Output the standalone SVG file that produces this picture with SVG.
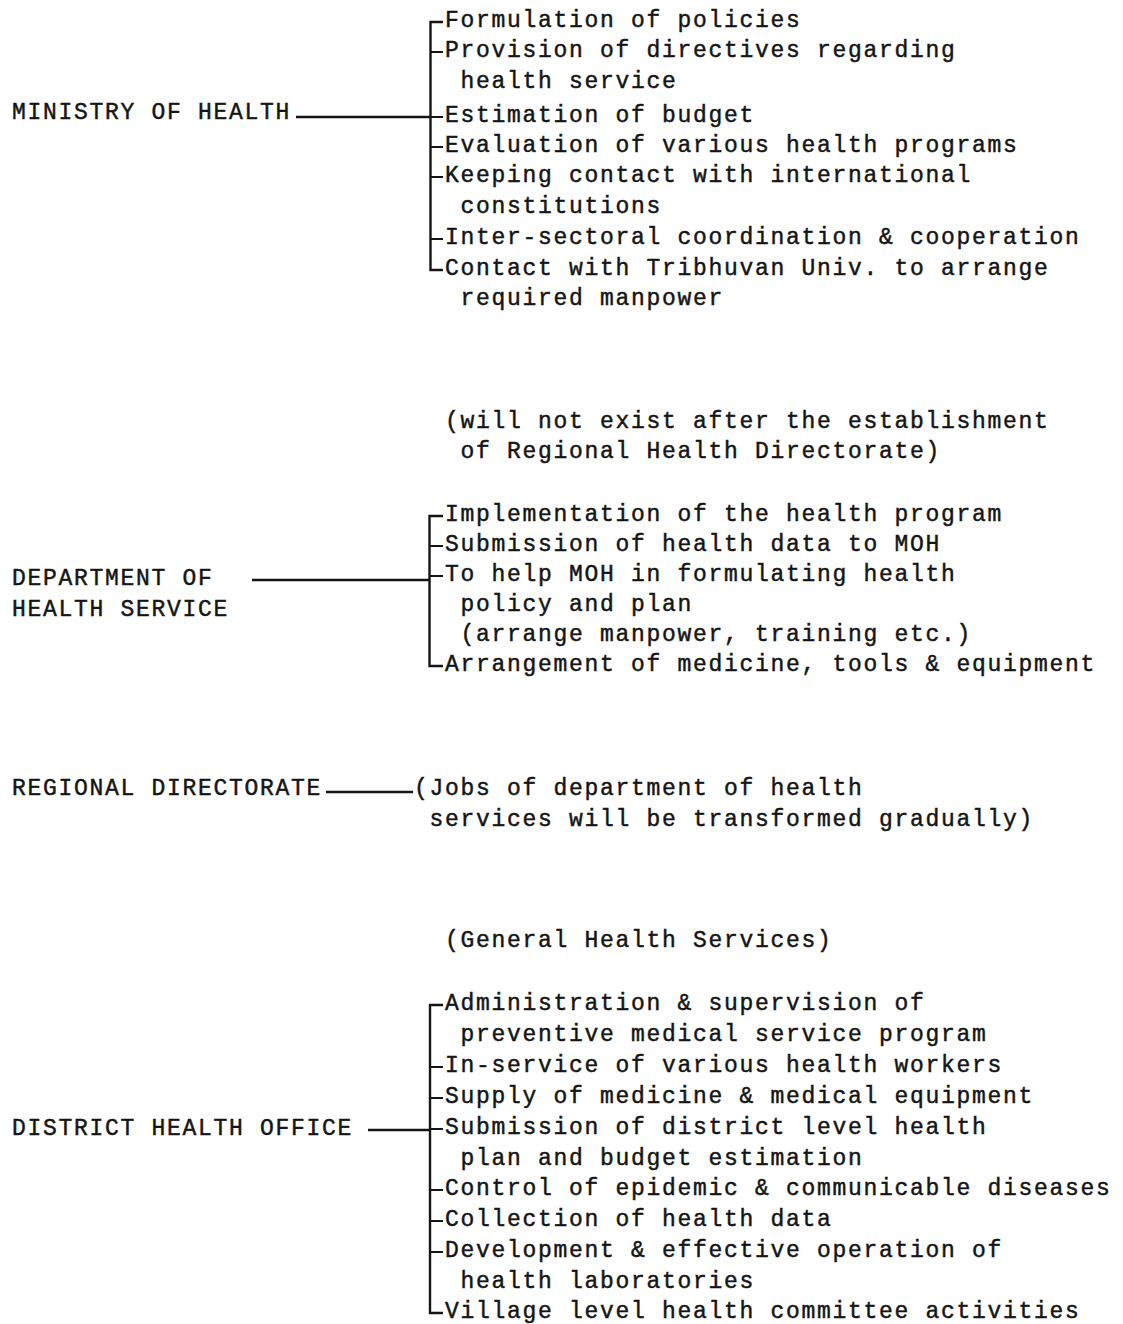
<svg xmlns="http://www.w3.org/2000/svg" width="1123" height="1324" viewBox="0 0 1123 1324">
<style>
text { font-family: "Liberation Mono", "Courier New", monospace; font-size: 23px; letter-spacing: 1.7px; fill: #151515; stroke: #151515; stroke-width: 0.45px; }
.c { fill: none; stroke: #151515; stroke-width: 2.4; stroke-linecap: butt; }
.t { fill: none; stroke: #151515; stroke-width: 2.2; }
</style>
<rect width="1123" height="1324" fill="#ffffff"/>

<g id="ministry">
<text x="12" y="119">MINISTRY OF HEALTH</text>
</g>
<g id="ministry-functions">
<text x="445" y="27">Formulation of policies</text>
<text x="445" y="57">Provision of directives regarding</text>
<text x="460.5" y="88">health service</text>
<text x="445" y="122">Estimation of budget</text>
<text x="445" y="152">Evaluation of various health programs</text>
<text x="445" y="182">Keeping contact with international</text>
<text x="460.5" y="213">constitutions</text>
<text x="445" y="244">Inter-sectoral coordination &amp; cooperation</text>
<text x="445" y="275">Contact with Tribhuvan Univ. to arrange</text>
<text x="460.5" y="305">required manpower</text>
</g>

<g id="department-note">
<text x="445" y="428">(will not exist after the establishment</text>
<text x="460.5" y="458">of Regional Health Directorate)</text>
</g>
<g id="department">
<text x="12" y="585">DEPARTMENT OF</text>
<text x="12" y="616">HEALTH SERVICE</text>
</g>
<g id="department-functions">
<text x="445" y="521">Implementation of the health program</text>
<text x="445" y="551">Submission of health data to MOH</text>
<text x="445" y="581">To help MOH in formulating health</text>
<text x="460.5" y="611">policy and plan</text>
<text x="460.5" y="641">(arrange manpower, training etc.)</text>
<text x="445" y="671">Arrangement of medicine, tools &amp; equipment</text>
</g>

<g id="regional">
<text x="12" y="795">REGIONAL DIRECTORATE</text>
</g>
<g id="regional-functions">
<text x="414" y="795">(Jobs of department of health</text>
<text x="429.5" y="826">services will be transformed gradually)</text>
</g>

<g id="district-note">
<text x="445" y="947">(General Health Services)</text>
</g>
<g id="district">
<text x="12" y="1135">DISTRICT HEALTH OFFICE</text>
</g>
<g id="district-functions">
<text x="445" y="1010">Administration &amp; supervision of</text>
<text x="460.5" y="1041">preventive medical service program</text>
<text x="445" y="1072">In-service of various health workers</text>
<text x="445" y="1103">Supply of medicine &amp; medical equipment</text>
<text x="445" y="1134">Submission of district level health</text>
<text x="460.5" y="1165">plan and budget estimation</text>
<text x="445" y="1195">Control of epidemic &amp; communicable diseases</text>
<text x="445" y="1226">Collection of health data</text>
<text x="445" y="1257">Development &amp; effective operation of</text>
<text x="460.5" y="1288">health laboratories</text>
<text x="445" y="1318">Village level health committee activities</text>
</g>

<g id="connectors">
<!-- Ministry -->
<path class="c" d="M296,117 H430.5"/>
<path class="c" d="M443,22 H430.5 V270 H443"/>
<path class="t" d="M430.5,52 H443 M430.5,117 H443 M430.5,147 H443 M430.5,177 H443 M430.5,239 H443"/>
<!-- Department -->
<path class="c" d="M252,580 H429.5"/>
<path class="c" d="M443,516 H429.5 V666 H443"/>
<path class="t" d="M429.5,546 H443 M429.5,576 H443"/>
<!-- Regional -->
<path class="c" d="M326,792 H413"/>
<!-- District -->
<path class="c" d="M368,1130 H430"/>
<path class="c" d="M443,1005 H430 V1313 H443"/>
<path class="t" d="M430,1067 H443 M430,1098 H443 M430,1129 H443 M430,1190 H443 M430,1221 H443 M430,1252 H443"/>
</g>
</svg>
